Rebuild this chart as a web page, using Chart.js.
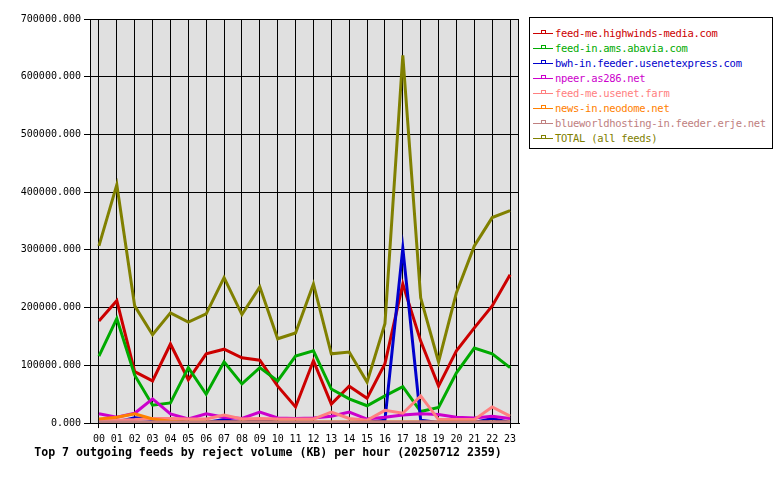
<!DOCTYPE html>
<html>
<head>
<meta charset="utf-8">
<script src="https://cdn.jsdelivr.net/npm/chart.js@4/dist/chart.umd.min.js"></script>
<style>
  body { margin: 0; background: #fff; }
  #wrap { position: relative; width: 780px; height: 480px; }
  #box { position: absolute; left: 0; top: 0; width: 536px; height: 480px; }
  #legend {
    position: absolute; left: 529px; top: 17px; width: 244px; height: 132px;
    border: 1px solid #000; background: #fff; box-sizing: border-box;
    font: 10.5px "DejaVu Sans Mono", monospace; padding-top: 8px;
  }
  .item { height: 15px; line-height: 15px; position: relative; padding-left: 25px; white-space: nowrap; letter-spacing: -0.3px; }
  .swatch { position: absolute; left: 3px; top: 7px; width: 20px; height: 1px; }
  .swatch i { position: absolute; left: 8px; top: -3px; width: 3px; height: 2px; border: 1px solid; border-bottom: none; }
</style>
</head>
<body>
<div id="wrap">
  <div id="box"><canvas id="c" width="536" height="480"></canvas></div>
  <div id="legend"></div>
</div>
<script>
// hours of the day
const hours = ['00','01','02','03','04','05','06','07','08','09','10','11',
               '12','13','14','15','16','17','18','19','20','21','22','23'];

const feedNames = [
  'feed-me.highwinds-media.com',
  'feed-in.ams.abavia.com',
  'bwh-in.feeder.usenetexpress.com',
  'npeer.as286.net',
  'feed-me.usenet.farm',
  'news-in.neodome.net',
  'blueworldhosting-in.feeder.erje.net',
  'TOTAL (all feeds)'
];
const feedColors = ['#cc0000', '#00aa00', '#0000cc', '#cc00cc', '#ff8080', '#ff8000', '#c08080', '#808000'];

// reject volume (KB) per hour
const highwinds = [177000, 212000, 89000, 73000, 137000, 75000, 120000, 128000, 113000, 109000, 64000, 28000,
                   108000, 33000, 64000, 43000, 103000, 241000, 142000, 64000, 125000, 165000, 203000, 257000];
const abavia = [116000, 181000, 83000, 31000, 35000, 96000, 50000, 106000, 68000, 96000, 73000, 116000,
                125000, 59000, 42000, 30000, 47000, 63000, 20000, 27000, 87000, 130000, 120000, 96000];
const usenetexpress = [1000, 2000, 9000, 6000, 6000, 1000, 1000, 6000, 1000, 6000, 1000, 1000,
                       1000, 1000, 1000, 1000, 5000, 303000, 5000, 1000, 1000, 1000, 8000, 1000];
const as286 = [16000, 10000, 17000, 42000, 16000, 7000, 16000, 10000, 8000, 19000, 9000, 8000,
               9000, 12000, 19000, 7000, 10000, 14000, 16000, 15000, 10000, 9000, 12000, 8000];
const usenetFarm = [5000, 5000, 6000, 8000, 8000, 7000, 7000, 14000, 7000, 8000, 7000, 7000,
                    7000, 19000, 8000, 5000, 22000, 17000, 47000, 6000, 6000, 6000, 28000, 12000];
const neodome = [7000, 10000, 16000, 7000, 3000, 2000, 2000, 2000, 2000, 2000, 2000, 2000,
                 2000, 2000, 2000, 2000, 2000, 2000, 2000, 2000, 2000, 2000, 2000, 2000];
const erje = [2000, 2000, 2000, 2000, 2000, 2000, 2000, 2000, 2000, 2000, 2000, 2000,
              2000, 2000, 2000, 2000, 2000, 2000, 2000, 2000, 2000, 2000, 2000, 2000];
const total = [307000, 413000, 203000, 153000, 191000, 175000, 189000, 252000, 188000, 236000, 146000, 156000,
               241000, 120000, 123000, 71000, 172000, 637000, 217000, 106000, 226000, 307000, 356000, 368000];

const seriesValues = [highwinds, abavia, usenetexpress, as286, usenetFarm, neodome, erje, total];

const yMax = 700000;
const yStep = 100000;

const monoFont = { family: '"DejaVu Sans Mono", monospace', size: 10 };

// grey plot background and a frame round it
const plotFrame = {
  id: 'plotFrame',
  beforeDraw(chart) {
    const { ctx, chartArea: a } = chart;
    ctx.save();
    ctx.fillStyle = '#e0e0e0';
    ctx.fillRect(a.left, a.top, a.right - a.left, a.bottom - a.top);
    ctx.restore();
  },
  afterDraw(chart) {
    const { ctx, chartArea: a } = chart;
    ctx.save();
    ctx.strokeStyle = '#000';
    ctx.lineWidth = 1;
    ctx.strokeRect(Math.round(a.left) + 0.5, Math.round(a.top) + 0.5,
                   Math.round(a.right - a.left) - 1, Math.round(a.bottom - a.top));
    ctx.restore();
  }
};

new Chart(document.getElementById('c'), {
  type: 'line',
  data: {
    labels: hours,
    datasets: seriesValues.map((vals, i) => ({
      label: feedNames[i],
      data: vals,
      borderColor: feedColors[i],
      backgroundColor: feedColors[i],
      borderWidth: 3,
      pointRadius: 0,
      tension: 0,
      fill: false,
      order: seriesValues.length - i   // later feeds are painted over earlier ones
    }))
  },
  options: {
    responsive: false,
    animation: false,
    layout: { padding: { top: 19, right: 17, left: 17, bottom: 0 } },
    plugins: {
      legend: { display: false },
      tooltip: { enabled: false },
      title: {
        display: true,
        position: 'bottom',
        text: 'Top 7 outgoing feeds by reject volume (KB) per hour (20250712 2359)',
        color: '#000',
        font: { family: '"DejaVu Sans Mono", monospace', size: 11.6, weight: 'bold' },
        padding: { top: 0, bottom: 20 }
      }
    },
    scales: {
      x: {
        offset: true,
        afterFit: s => { s.height = 23; },
        grid: { color: '#000', lineWidth: 1, tickLength: 5, offset: false },
        border: { color: '#000' },
        ticks: { color: '#000', font: monoFont, padding: 5, maxRotation: 0, autoSkip: false }
      },
      y: {
        min: 0,
        max: yMax,
        afterFit: s => { s.width = 73; },
        grid: { color: '#000', lineWidth: 1, tickLength: 6 },
        border: { color: '#000' },
        ticks: {
          stepSize: yStep,
          color: '#000',
          font: monoFont,
          padding: 3,
          callback: v => v.toFixed(3)
        }
      }
    }
  },
  plugins: [plotFrame]
});

// legend box beside the plot
const legend = document.getElementById('legend');
feedNames.forEach((name, i) => {
  const row = document.createElement('div');
  row.className = 'item';
  row.style.color = feedColors[i];
  row.innerHTML = '<span class="swatch" style="background:' + feedColors[i] + '"><i style="border-color:' +
                  feedColors[i] + '"></i></span>' + name;
  legend.appendChild(row);
});
</script>
</body>
</html>
